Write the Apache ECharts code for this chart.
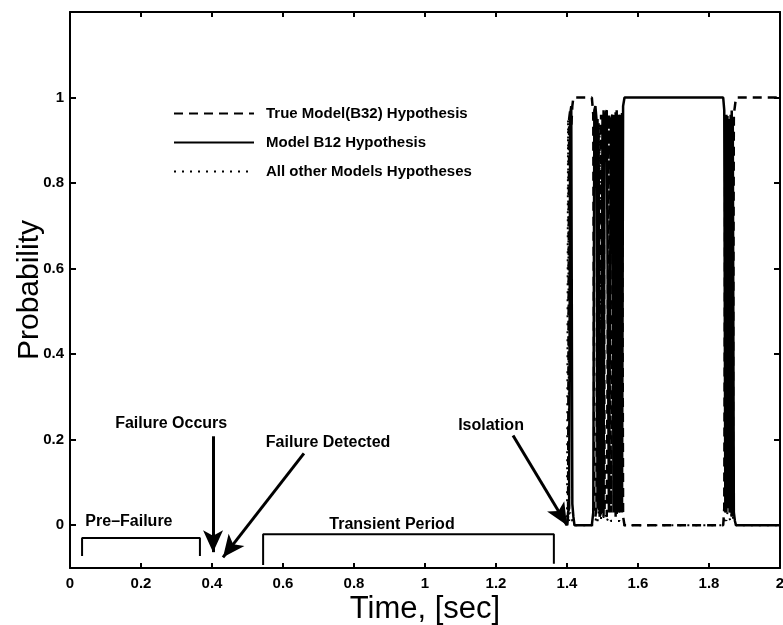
<!DOCTYPE html>
<html>
<head>
<meta charset="utf-8">
<script src="https://cdn.jsdelivr.net/npm/echarts@6/dist/echarts.min.js"></script>
<style>
  html, body { margin: 0; padding: 0; background: #fff; }
  #chart { width: 783px; height: 625px; }
</style>
</head>
<body>
<div id="chart"></div>
<script>
// Hypothesis probabilities after the failure is isolated (time in seconds)
const timeSec = [
  1.400, 1.403, 1.406, 1.409, 1.412, 1.415, 1.418, 1.421,
  1.440, 1.460, 1.470,
  1.474, 1.477, 1.480, 1.483, 1.486, 1.489, 1.492, 1.496, 1.500, 1.503, 1.506, 1.512, 1.518, 1.524,
  1.528, 1.531, 1.534, 1.537, 1.540, 1.543, 1.546, 1.549, 1.552, 1.555, 1.558,
  1.562, 1.600, 1.650, 1.700, 1.750, 1.800, 1.840,
  1.843, 1.846, 1.849, 1.852, 1.855, 1.858, 1.861, 1.864, 1.867, 1.870, 1.873,
  1.876, 1.900, 1.950, 2.000
];
const trueModelB32 = [
  0, 0.02, 0.95, 0.97, 0.93, 0.98, 1, 1,
  1, 1, 1,
  0.96, 0.03, 0.02, 0.04, 0.95, 0.05, 0.03, 0.96, 0.04, 0.97, 0.03, 0.02, 0.96, 0.03,
  0.03, 0.96, 0.04, 0.97, 0.02, 0.95, 0.03, 0.96, 0.04, 0.97, 0.02,
  0, 0, 0, 0, 0, 0, 0,
  0.04, 0.95, 0.03, 0.96, 0.05, 0.94, 0.03, 0.97, 0.04, 0.96, 0.98,
  1, 1, 1, 1
];
const modelB12 = [
  0, 0.03, 0.04, 0.96, 0.98, 0.05, 0.02, 0,
  0, 0, 0,
  0.03, 0.97, 0.98, 0.95, 0.04, 0.94, 0.02, 0.03, 0.95, 0.02, 0.96, 0.97, 0.03, 0.95,
  0.96, 0.03, 0.95, 0.02, 0.97, 0.04, 0.96, 0.03, 0.95, 0.03, 0.98,
  1, 1, 1, 1, 1, 1, 1,
  0.97, 0.03, 0.96, 0.04, 0.95, 0.03, 0.96, 0.02, 0.94, 0.03, 0.01,
  0, 0, 0, 0
];
const otherModels = [
  0, 0.95, 0.01, 0.03, 0.02, 0.01, 0, 0,
  0, 0, 0,
  0, 0, 0.01, 0.02, 0.01, 0.02, 0.94, 0.01, 0.01, 0.02, 0.01, 0.01, 0.02, 0.01,
  0.01, 0.01, 0.01, 0.01, 0.01, 0.01, 0.01, 0.01, 0.01, 0, 0,
  0, 0, 0, 0, 0, 0, 0,
  0.01, 0.02, 0.01, 0.03, 0.02, 0.02, 0.01, 0.03, 0.02, 0.01, 0.01,
  0, 0, 0, 0
];
const seriesNames = ['True Model(B32) Hypothesis', 'Model B12 Hypothesis', 'All other Models Hypotheses'];
const yTicks = [0, 0.2, 0.4, 0.6, 0.8, 1];

// Phase brackets and annotation arrows, in (time, probability) units
const bracketPreFailure = [[0.034, -0.072], [0.034, -0.030], [0.366, -0.030], [0.366, -0.072]];
const bracketTransient = [[0.544, -0.093], [0.544, -0.021], [1.363, -0.021], [1.363, -0.090]];
const arrowFailureOccurs = [[0.403, 0.208], [0.403, -0.063]];
const arrowFailureDetected = [[0.659, 0.168], [0.431, -0.075]];
const arrowIsolation = [[1.248, 0.210], [1.400, 0.000]];
const noteTexts = ['Pre\u2013Failure', 'Failure Occurs', 'Failure Detected', 'Transient Period', 'Isolation'];
const noteX = [0.166, 0.285, 0.727, 0.907, 1.186];
const noteY = [0.009, 0.238, 0.194, 0.002, 0.234];

const FONT = '"Liberation Sans", Arial, Helvetica, sans-serif';
const pairs = (vals) => timeSec.map((t, i) => [t, vals[i]]);
const arrowItem = (a) => [
  { coord: a[0], symbol: 'none' },
  { coord: a[1], symbol: 'arrow', symbolSize: [15, 22] }
];

const chart = echarts.init(document.getElementById('chart'));

const xAxisBase = {
  type: 'value', min: 0, max: 2, interval: 0.2,
  axisLine: { show: true, onZero: false, lineStyle: { color: '#000', width: 2 } },
  axisTick: { inside: true, length: 5, lineStyle: { color: '#000', width: 2 } },
  splitLine: { show: false }
};
const yAxisBase = {
  type: 'value', min: -0.1, max: 1.2,
  axisLine: { show: true, onZero: false, lineStyle: { color: '#000', width: 2 } },
  axisTick: { inside: true, length: 6, customValues: yTicks, lineStyle: { color: '#000', width: 2 } },
  splitLine: { show: false }
};

chart.setOption({
  animation: false,
  backgroundColor: '#fff',
  grid: { left: 70, right: 3, top: 12, bottom: 57, outerBoundsMode: 'none', containLabel: false },
  legend: {
    orient: 'vertical', left: 168, top: 101,
    itemWidth: 80, itemHeight: 14, itemGap: 14,
    selectedMode: false,
    data: seriesNames,
    itemStyle: { opacity: 0 },
    textStyle: { fontFamily: FONT, fontSize: 15, fontWeight: 'bold', color: '#000', padding: [0, 0, 0, 7] }
  },
  xAxis: [
    Object.assign({}, xAxisBase, {
      position: 'bottom',
      axisLabel: { color: '#000', fontFamily: FONT, fontWeight: 'bold', fontSize: 15, margin: 8 },
      name: 'Time, [sec]', nameLocation: 'middle', nameGap: 26, nameMoveOverlap: false,
      nameTextStyle: { fontFamily: FONT, fontSize: 31, color: '#000', verticalAlign: 'top' }
    }),
    Object.assign({}, xAxisBase, { position: 'top', axisLabel: { show: false } })
  ],
  yAxis: [
    Object.assign({}, yAxisBase, {
      position: 'left',
      axisLabel: { customValues: yTicks, color: '#000', fontFamily: FONT, fontWeight: 'bold', fontSize: 15, margin: 6 },
      name: 'Probability', nameLocation: 'middle', nameGap: 25, nameMoveOverlap: false,
      nameTextStyle: { fontFamily: FONT, fontSize: 30, color: '#000' }
    }),
    Object.assign({}, yAxisBase, { position: 'right', axisLabel: { show: false } })
  ],
  series: [
    {
      name: seriesNames[2], type: 'line', data: pairs(otherModels),
      symbol: 'none', silent: true, color: '#000',
      lineStyle: { color: '#000', width: 2, type: [2, 6] }
    },
    {
      name: seriesNames[0], type: 'line', data: pairs(trueModelB32),
      symbol: 'none', silent: true, color: '#000',
      lineStyle: { color: '#000', width: 2.5, type: [9, 6] }
    },
    {
      name: seriesNames[1], type: 'line', data: pairs(modelB12),
      symbol: 'none', silent: true, color: '#000',
      lineStyle: { color: '#000', width: 2.5, type: 'solid' }
    },
    {
      name: 'bracketPre', type: 'line', data: bracketPreFailure,
      symbol: 'none', silent: true, lineStyle: { color: '#000', width: 2 }
    },
    {
      name: 'bracketTransient', type: 'line', data: bracketTransient,
      symbol: 'none', silent: true, lineStyle: { color: '#000', width: 2 }
    },
    {
      name: 'notes', type: 'scatter', silent: true,
      data: noteTexts.map((s, i) => [noteX[i], noteY[i], s]),
      symbolSize: 0,
      itemStyle: { color: '#000', opacity: 1 },
      label: {
        show: true, position: 'inside', formatter: (p) => p.data[2],
        color: '#000', textBorderWidth: 0, fontFamily: FONT, fontWeight: 'bold', fontSize: 16
      },
      markLine: {
        silent: true, animation: false,
        label: { show: false },
        lineStyle: { color: '#000', width: 3, type: 'solid', opacity: 1 },
        itemStyle: { color: '#000', opacity: 1 },
        data: [arrowItem(arrowFailureOccurs), arrowItem(arrowFailureDetected), arrowItem(arrowIsolation)]
      }
    }
  ]
});
</script>
</body>
</html>
